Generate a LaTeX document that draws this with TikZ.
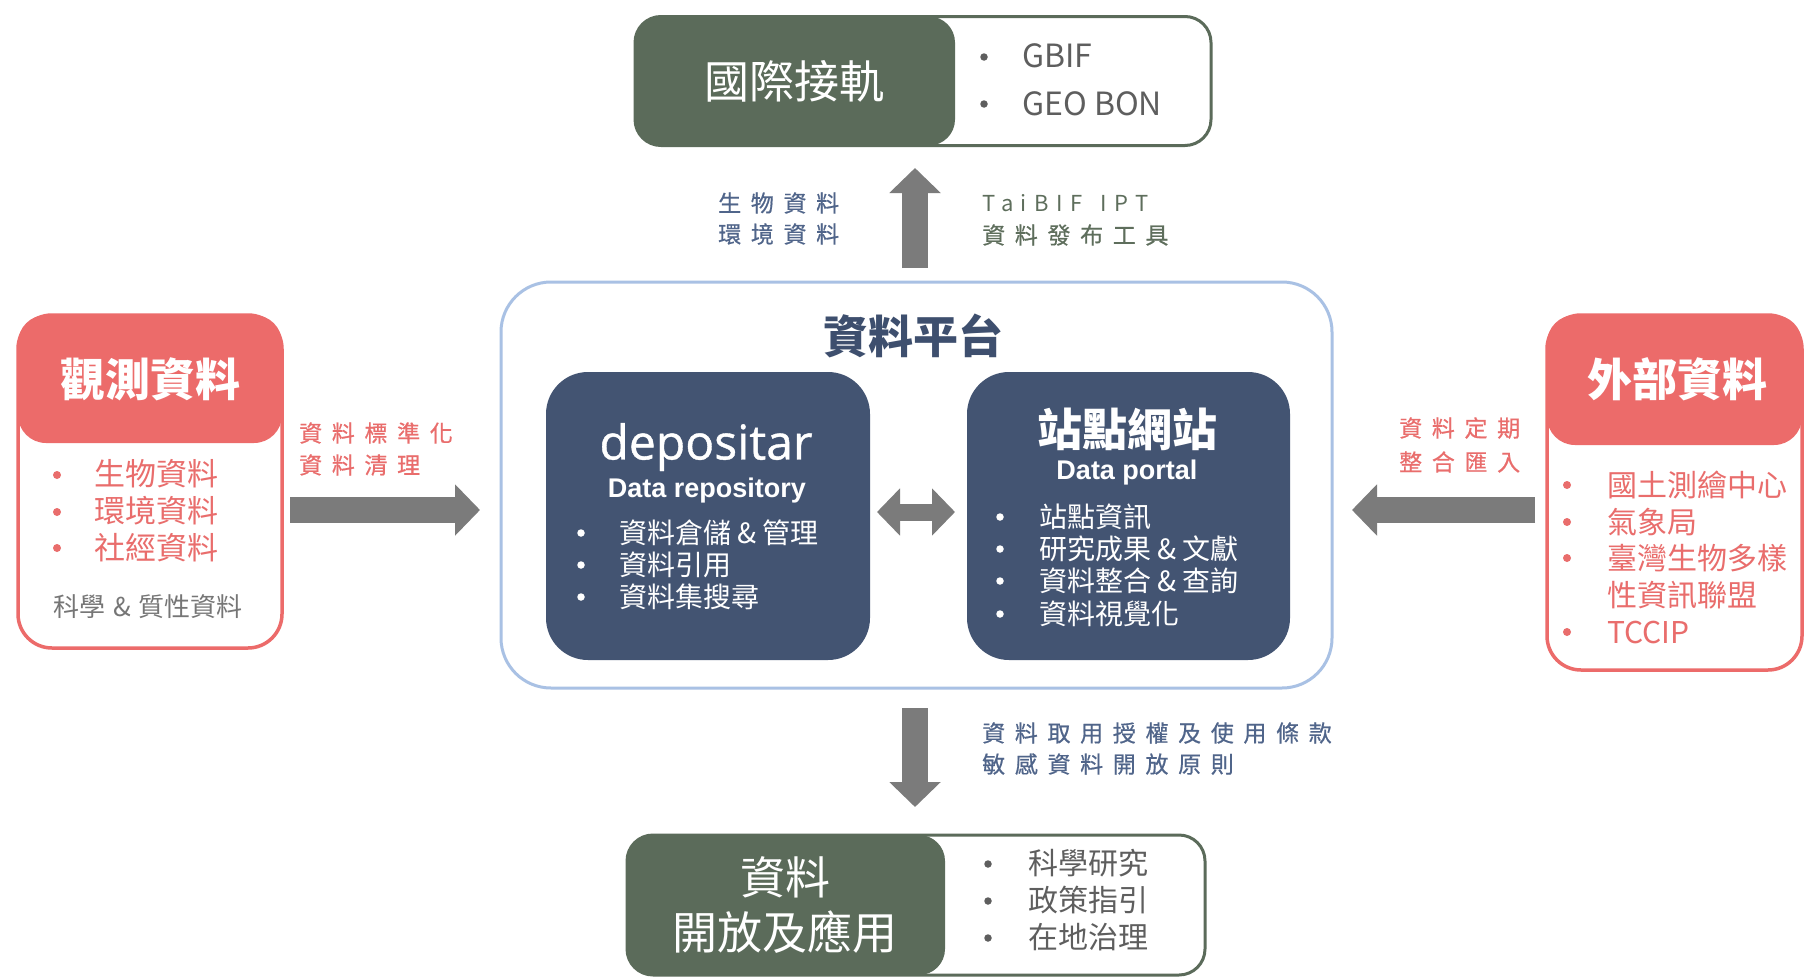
\documentclass[tikz,border=0pt]{standalone}
\usepackage{fontspec}
\setmainfont{Noto Sans CJK TC}
\newfontfamily\cjk{Noto Sans CJK TC}
\newfontfamily\cjksp[LetterSpace=42,FakeBold=0.6]{Noto Sans CJK TC}
\newfontfamily\cjkspb[LetterSpace=34]{Noto Sans CJK TC}
\newfontfamily\opensans[FakeBold=0.8]{Open Sans}
\newfontfamily\arialf{Liberation Sans}
\usetikzlibrary{arrows.meta}
\definecolor{dgreen}{HTML}{5B6B5A}
\definecolor{dblue}{HTML}{435472}
\definecolor{cred}{HTML}{EC6B6A}
\definecolor{tred}{HTML}{E96D6C}
\definecolor{lblue}{HTML}{A9C1E4}
\definecolor{agray}{HTML}{7B7B7B}
\definecolor{tgray}{HTML}{5E5E5E}
\definecolor{lbtext}{HTML}{50658A}
\definecolor{lgtext}{HTML}{5E6E5C}
\definecolor{titleblue}{HTML}{3E4F6E}
\newcommand\fsz[1]{\fontsize{#1}{#1}\selectfont}
\tikzset{
  greenouter/.style={draw=dgreen, line width=3pt, fill=white, rounded corners=26pt, inner sep=0pt},
  greenpart/.style={fill=dgreen, rounded corners=26pt, inner sep=0pt},
  redouter/.style={draw=cred, line width=3.5pt, fill=white, rounded corners=34pt, inner sep=0pt},
  redhead/.style={fill=cred, rounded corners=28pt, inner sep=0pt},
  bluebox/.style={fill=dblue, rounded corners=42pt, inner sep=0pt},
  platform/.style={draw=lblue, line width=3pt, rounded corners=50pt, inner sep=0pt},
  bigarrow/.style={draw=agray, line width=26pt, -{Triangle[length=25pt,width=50pt]}},
  dblarrow/.style={draw=agray, line width=17pt, {Triangle[length=23pt,width=46pt]}-{Triangle[length=23pt,width=46pt]}},
  txt/.style={inner sep=0pt, anchor=west},
  bul/.style={circle, inner sep=0pt, minimum size=7.5pt},
  lbl/.style={inner sep=0pt, anchor=west, font=\cjksp\fsz{23}},
}
\begin{document}
\begin{tikzpicture}[x=1pt,y=-1pt]
\useasboundingbox[fill=white] (0,0) rectangle (1805,980);

% ---------- top box ----------
\node[greenouter, minimum width=576pt, minimum height=129pt] (intl) at (923,81) {};
\node[greenpart, minimum width=320pt, minimum height=129pt] (intlh) at (795,81) {};
\node[inner sep=0pt, text=white, font=\cjk\fsz{45}] (intlt) at (794,81) {國際接軌};
\node[bul, fill=tgray] (ib1) at (984,57) {};
\node[bul, fill=tgray] (ib2) at (984,104) {};
\node[txt, text=tgray, font=\cjk\fsz{32}] (i1) at (1022,56) {GBIF};
\node[txt, text=tgray, font=\cjk\fsz{32}] (i2) at (1022,104) {GEO BON};

% ---------- up arrow ----------
\coordinate (upS) at (915,268);
\coordinate (upE) at (915,168);
\draw[bigarrow] (upS) -- (upE);
\node[lbl, text=lbtext] (u1) at (718,203) {生物資料};
\node[lbl, text=lbtext] (u2) at (718,234) {環境資料};
\node[txt, text=lgtext, font=\cjkspb\fsz{22}] (u3) at (982,203) {TaiBIF\hspace{6pt} IPT};
\node[lbl, text=lgtext] (u4) at (982,235) {資料發布工具};

% ---------- platform ----------
\node[platform, minimum width=831pt, minimum height=406pt] (plat) at (916.5,485) {};
\node[inner sep=0pt, text=titleblue, font=\cjk\bfseries\fsz{45}] (platt) at (913,336) {資料平台};

% depositar
\node[bluebox, minimum width=324pt, minimum height=288pt] (dep) at (708,516) {};
\node[inner sep=0pt, text=white, font=\opensans\fsz{48}] (dept) at (706,447) {depositar};
\node[inner sep=0pt, text=white, font=\arialf\bfseries\fsz{27}] (deps) at (707,491) {Data repository};
\node[bul, fill=white] (db1) at (581,533) {};
\node[bul, fill=white] (db2) at (581,565) {};
\node[bul, fill=white] (db3) at (581,597) {};
\node[txt, text=white, font=\cjk\fsz{28}] (d1) at (619,533) {資料倉儲 \& 管理};
\node[txt, text=white, font=\cjk\fsz{28}] (d2) at (619,565) {資料引用};
\node[txt, text=white, font=\cjk\fsz{28}] (d3) at (619,597) {資料集搜尋};

% portal
\node[bluebox, minimum width=323pt, minimum height=288pt] (por) at (1128.5,516) {};
\node[inner sep=0pt, text=white, font=\cjk\bfseries\fsz{45}] (port) at (1127,429) {站點網站};
\node[inner sep=0pt, text=white, font=\arialf\bfseries\fsz{27}] (pors) at (1127,473) {Data portal};
\node[bul, fill=white] (pb1) at (1000,517) {};
\node[bul, fill=white] (pb2) at (1000,549) {};
\node[bul, fill=white] (pb3) at (1000,581) {};
\node[bul, fill=white] (pb4) at (1000,614) {};
\node[txt, text=white, font=\cjk\fsz{28}] (p1) at (1039,517) {站點資訊};
\node[txt, text=white, font=\cjk\fsz{28}] (p2) at (1039,549) {研究成果 \& 文獻};
\node[txt, text=white, font=\cjk\fsz{28}] (p3) at (1039,581) {資料整合 \& 查詢};
\node[txt, text=white, font=\cjk\fsz{28}] (p4) at (1039,614) {資料視覺化};

\coordinate (dbS) at (877,512);
\coordinate (dbE) at (955,512);
\draw[dblarrow] (dbS) -- (dbE);

% ---------- left box ----------
\node[redouter, minimum width=264pt, minimum height=333pt] (obs) at (150,481.5) {};
\node[redhead, minimum width=264pt, minimum height=128pt] (obsh) at (150,379) {};
\node[inner sep=0pt, text=white, font=\cjk\bfseries\fsz{45}] (obst) at (150,379) {觀測資料};
\node[bul, fill=tred, minimum size=8pt] (ob1) at (57,475) {};
\node[bul, fill=tred, minimum size=8pt] (ob2) at (57,512) {};
\node[bul, fill=tred, minimum size=8pt] (ob3) at (57,548) {};
\node[txt, text=tred, font=\cjk\fsz{31}] (o1) at (94,474) {生物資料};
\node[txt, text=tred, font=\cjk\fsz{31}] (o2) at (94,511) {環境資料};
\node[txt, text=tred, font=\cjk\fsz{31}] (o3) at (94,548) {社經資料};
\node[inner sep=0pt, text=tgray!85, font=\cjk\fsz{26}] (o4) at (148,607) {科學\hspace{8pt}\&\hspace{8pt}質性資料};

\coordinate (raS) at (290,510);
\coordinate (raE) at (480,510);
\draw[bigarrow] (raS) -- (raE);
\node[lbl, text=tred] (r1) at (299,433) {資料標準化};
\node[lbl, text=tred] (r2) at (299,465) {資料清理};

% ---------- right box ----------
\node[redouter, minimum width=255pt, minimum height=355pt] (ext) at (1674.5,492.5) {};
\node[redhead, minimum width=255pt, minimum height=130pt] (exth) at (1674.5,380) {};
\node[inner sep=0pt, text=white, font=\cjk\bfseries\fsz{45}] (extt) at (1677,379) {外部資料};
\node[bul, fill=tred, minimum size=8pt] (eb1) at (1567,485) {};
\node[bul, fill=tred, minimum size=8pt] (eb2) at (1567,522) {};
\node[bul, fill=tred, minimum size=8pt] (eb3) at (1567,558) {};
\node[bul, fill=tred, minimum size=8pt] (eb4) at (1567,632) {};
\node[txt, text=tred, font=\cjk\fsz{30}] (e1) at (1607,485) {國土測繪中心};
\node[txt, text=tred, font=\cjk\fsz{30}] (e2) at (1607,522) {氣象局};
\node[txt, text=tred, font=\cjk\fsz{30}] (e3) at (1607,558) {臺灣生物多樣};
\node[txt, text=tred, font=\cjk\fsz{30}] (e3b) at (1607,595) {性資訊聯盟};
\node[txt, text=tred, font=\cjk\fsz{30}] (e4) at (1607,632) {TCCIP};

\coordinate (laS) at (1535,510);
\coordinate (laE) at (1352,510);
\draw[bigarrow] (laS) -- (laE);
\node[lbl, text=tred] (l1) at (1399,428) {資料定期};
\node[lbl, text=tred] (l2) at (1399,462) {整合匯入};

% ---------- down arrow ----------
\coordinate (dnS) at (915,708);
\coordinate (dnE) at (915,807);
\draw[bigarrow] (dnS) -- (dnE);
\node[lbl, text=lbtext] (n1) at (982,733) {資料取用授權及使用條款};
\node[lbl, text=lbtext] (n2) at (982,764) {敏感資料開放原則};

% ---------- bottom box ----------
\node[greenouter, minimum width=578pt, minimum height=140pt] (app) at (916,905) {};
\node[greenpart, minimum width=318pt, minimum height=140pt] (apph) at (786,905) {};
\node[inner sep=0pt, text=white, font=\cjk\fsz{45}] (appt1) at (785,877) {資料};
\node[inner sep=0pt, text=white, font=\cjk\fsz{45}] (appt2) at (785,932) {開放及應用};
\node[bul, fill=tgray] (ab1) at (988,864) {};
\node[bul, fill=tgray] (ab2) at (988,901) {};
\node[bul, fill=tgray] (ab3) at (988,938) {};
\node[txt, text=tgray, font=\cjk\fsz{30}] (a1) at (1028,863) {科學研究};
\node[txt, text=tgray, font=\cjk\fsz{30}] (a2) at (1028,900) {政策指引};
\node[txt, text=tgray, font=\cjk\fsz{30}] (a3) at (1028,937) {在地治理};
\end{tikzpicture}
\end{document}
